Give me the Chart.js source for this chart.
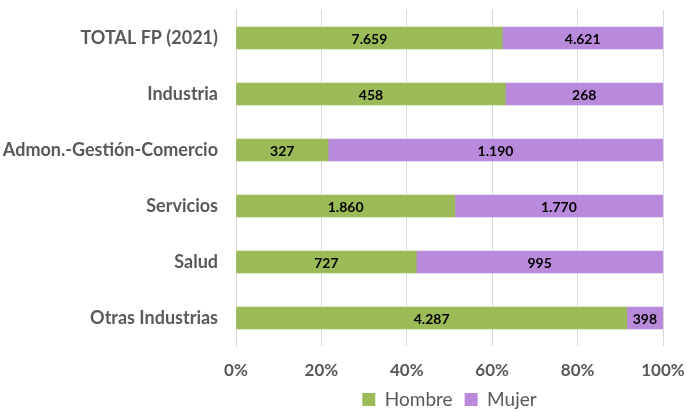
<!DOCTYPE html>
<html><head><meta charset="utf-8">
<script src="https://cdn.jsdelivr.net/npm/chart.js@4"></script>
<style>html,body{margin:0;padding:0;background:#fff}#wrap{width:686px;height:412px}</style>
</head><body><div id="wrap"><canvas id="c" width="686" height="412"></canvas></div>
<script>
const categories = ["TOTAL FP (2021)", "Industria", "Admon.-Gestión-Comercio", "Servicios", "Salud", "Otras Industrias"];
const hombre = [7659, 458, 327, 1860, 727, 4287];
const mujer = [4621, 268, 1190, 1770, 995, 398];
const xTicks = [0, 20, 40, 60, 80, 100];

const totals = categories.map((_, i) => hombre[i] + mujer[i]);
const pct = arr => arr.map((v, i) => v / totals[i] * 100);
const raw = [hombre, mujer];
const fmt = v => v.toLocaleString('de-DE');
const FONT = 'Lato, "Open Sans", sans-serif';

const labelPlugin = {
  id: 'barLabels',
  afterDatasetsDraw(chart) {
    const ctx = chart.ctx;
    ctx.save();
    ctx.font = 'bold 14px ' + FONT;
    ctx.fillStyle = '#000';
    ctx.textAlign = 'center';
    ctx.textBaseline = 'middle';
    chart.data.datasets.forEach((ds, di) => {
      chart.getDatasetMeta(di).data.forEach((el, i) => {
        const p = el.getProps(['x', 'y', 'base'], true);
        ctx.fillText(fmt(raw[di][i]), (p.x + p.base) / 2, p.y + 1);
      });
    });
    ctx.restore();
  }
};

new Chart(document.getElementById('c'), {
  type: 'bar',
  data: {
    labels: categories,
    datasets: [
      { label: 'Hombre', data: pct(hombre), backgroundColor: '#9BBB59', borderWidth: 0 },
      { label: 'Mujer', data: pct(mujer), backgroundColor: '#B98ADB', borderWidth: 0 }
    ]
  },
  options: {
    indexAxis: 'y',
    responsive: false,
    animation: false,
    devicePixelRatio: 1,
    layout: { autoPadding: false, padding: { top: 10, right: 23, left: 0, bottom: 0 } },
    datasets: { bar: { barThickness: 22 } },
    scales: {
      x: {
        stacked: true, min: 0, max: 100,
        afterBuildTicks: s => { s.ticks = xTicks.map(v => ({ value: v })); },
        afterFit: s => { s.paddingLeft = 0; s.paddingRight = 0; s.height = 32; },
        ticks: { callback: v => v + '%', color: '#595959', font: { family: FONT, size: 17, weight: 'bold' }, padding: 14 },
        grid: { color: '#d9d9d9', drawTicks: false },
        border: { display: false }
      },
      y: {
        stacked: true,
        afterFit: s => { s.paddingTop = 0; s.paddingBottom = 0; s.width = 236; },
        ticks: { color: '#595959', font: { family: FONT, size: 18, weight: 'bold' }, padding: 18 },
        grid: { display: false, drawTicks: false },
        border: { display: true, color: '#d9d9d9' }
      }
    },
    plugins: {
      legend: {
        position: 'bottom',
        fullSize: false,
        maxHeight: 34,
        labels: { boxWidth: 13, boxHeight: 13, color: '#595959', padding: 12, font: { family: FONT, size: 19 } }
      },
      tooltip: { enabled: false }
    }
  },
  plugins: [labelPlugin]
});
</script></body></html>
